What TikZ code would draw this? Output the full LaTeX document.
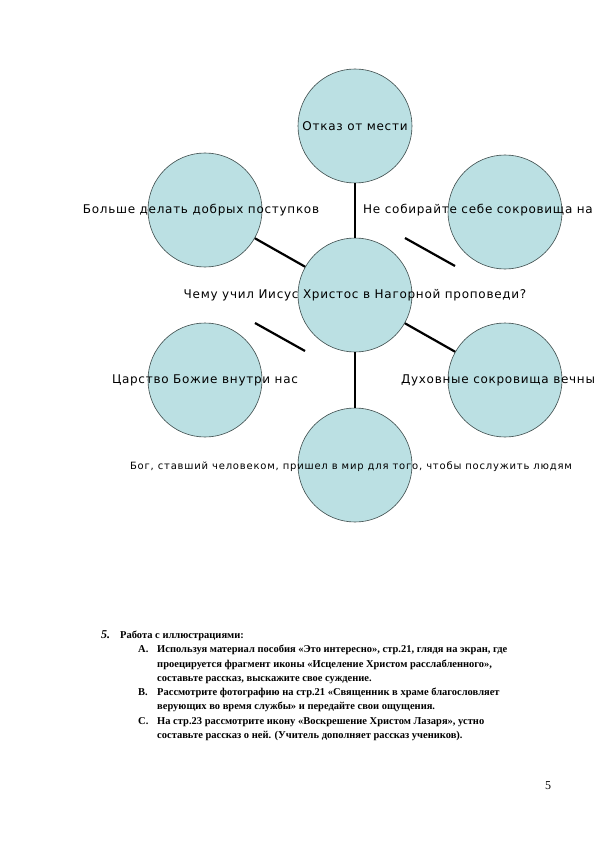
\documentclass[tikz,border=0pt]{standalone}
\usepackage{fontspec}
\setmainfont{Liberation Serif}
\newfontfamily\lblfont[LetterSpace=6]{DejaVu Sans}
\newfontfamily\notefont[LetterSpace=8]{DejaVu Sans}
\definecolor{bubblefill}{RGB}{187,224,227}
\definecolor{bubbleline}{RGB}{60,75,75}
\tikzset{
  bubble/.style={circle,draw=bubbleline,line width=0.6pt,fill=bubblefill,minimum size=114pt,inner sep=0pt},
  lbl/.style={font=\lblfont\fontsize{12}{14}\selectfont,inner sep=0pt},
  link/.style={line width=2.2pt},
  txt/.style={anchor=base west,inner sep=0pt,font=\bfseries\fontsize{10.5}{12}\selectfont}
}
\begin{document}
\begin{tikzpicture}[x=1pt,y=-1pt]
\useasboundingbox (0,0) rectangle (595,842);
% circles
\node[bubble] (revenge) at (355,126) {};
\node[bubble] (deeds) at (205,210) {};
\node[bubble] (treasure) at (505,212) {};
\node[bubble] (sermon) at (355,295) {};
\node[bubble] (kingdom) at (205,380) {};
\node[bubble] (eternal) at (505,380) {};
\node[bubble] (serve) at (355,465) {};
% connectors
\draw[link] (revenge) -- (sermon);
\draw[link] (deeds) -- (sermon);
\draw[link] (sermon) -- (eternal);
\draw[link] (sermon) -- (serve);
\coordinate (ur1) at (405,238);
\coordinate (ur2) at (455,266);
\coordinate (ll1) at (255,323);
\coordinate (ll2) at (305,351);
\draw[link] (ur1) -- (ur2);
\draw[link] (ll1) -- (ll2);
% labels
\node[lbl] (t1) at (revenge) {Отказ от мести};
\node[lbl] (t2) at (201,210) {Больше делать добрых поступков};
\node[lbl,anchor=east] (t3) at (593,210) {Не собирайте себе сокровища на};
\node[lbl] (t4) at (355,295) {Чему учил Иисус Христос в Нагорной проповеди?};
\node[lbl] (t5) at (205,380) {Царство Божие внутри нас};
\node[lbl] (t6) at (498,380) {Духовные сокровища вечны};
\node[lbl,font=\notefont\fontsize{10}{12}\selectfont] (t7) at (351,467)
  {Бог, ставший человеком, пришел в мир для того, чтобы послужить людям};
% task text
\node[txt,font=\bfseries\itshape\fontsize{12}{14}\selectfont] (n5) at (101,638) {5.};
\node[txt] (h5) at (120,638) {Работа с иллюстрациями:};
\node[txt] (ia) at (138,652.5) {A.};
\node[txt] (a1) at (157,652.5) {Используя материал пособия «Это интересно», стр.21, глядя на экран, где};
\node[txt] (a2) at (157,667) {проецируется фрагмент иконы «Исцеление Христом расслабленного»,};
\node[txt] (a3) at (157,681) {составьте рассказ, выскажите свое суждение.};
\node[txt] (ib) at (138,695.5) {B.};
\node[txt] (b1) at (157,695.5) {Рассмотрите фотографию на стр.21 «Священник в храме благословляет};
\node[txt] (b2) at (157,709.5) {верующих во время службы» и передайте свои ощущения.};
\node[txt] (ic) at (138,724) {C.};
\node[txt] (c1) at (157,724) {На стр.23 рассмотрите икону «Воскрешение Христом Лазаря», устно};
\node[txt] (c2) at (157,738) {составьте рассказ о ней. (Учитель дополняет рассказ учеников).};
\node[txt,font=\fontsize{12}{14}\selectfont] (pg) at (545,789) {5};
\end{tikzpicture}
\end{document}
